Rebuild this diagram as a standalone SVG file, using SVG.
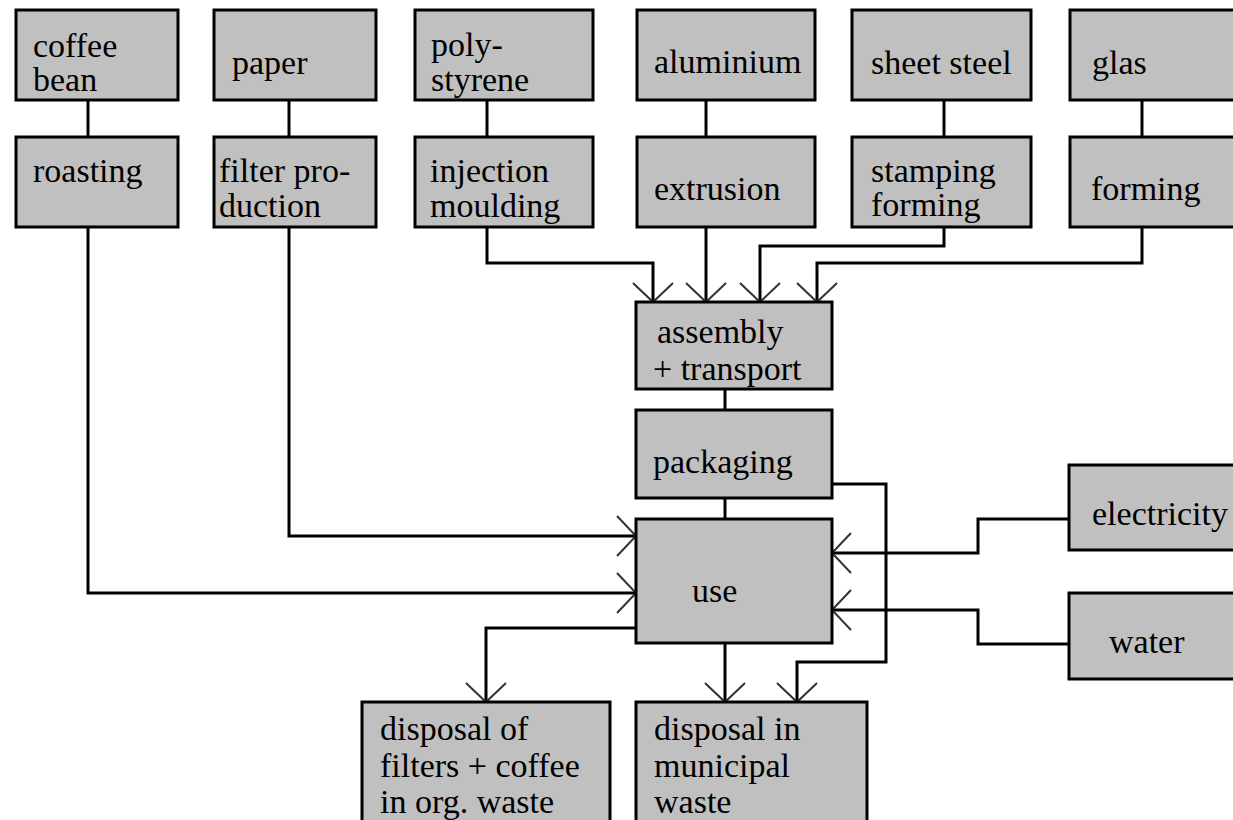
<svg xmlns="http://www.w3.org/2000/svg" width="1233" height="820" viewBox="0 0 1233 820" font-family="Liberation Serif, DejaVu Serif, Times New Roman, serif">
<style>
.box{fill:#c0c0c0;stroke:#000;stroke-width:3}
text{font-size:34px;fill:#000}
.c{fill:none;stroke:#000;stroke-width:3}
.a{marker-end:url(#v)}
</style>
<defs>
<marker id="v" markerUnits="userSpaceOnUse" viewBox="-25 -25 30 50" markerWidth="30" markerHeight="50" refX="0" refY="0" orient="auto" overflow="visible">
<path d="M-19,-20 L0,0 L-19,20" fill="none" stroke="#333" stroke-width="2"/>
</marker>
</defs>
<rect width="1233" height="820" fill="#fff"/>
<g id="connectors">
<path class="c" d="M88,100 V137"/>
<path class="c" d="M289,100 V137"/>
<path class="c" d="M487,100 V137"/>
<path class="c" d="M706,100 V137"/>
<path class="c" d="M944,100 V137"/>
<path class="c" d="M1142,100 V137"/>
<path class="c a" d="M487,227 V263 H653 V302"/>
<path class="c a" d="M706,227 V302"/>
<path class="c a" d="M944,227 V246 H760 V302"/>
<path class="c a" d="M1142,227 V263 H817 V302"/>
<path class="c" d="M725,389 V410"/>
<path class="c" d="M725,498 V519"/>
<path class="c a" d="M289,227 V536 H636"/>
<path class="c a" d="M88,227 V593 H636"/>
<path class="c a" d="M1069,519 H978 V553 H832"/>
<path class="c a" d="M1069,644 H978 V610 H832"/>
<path class="c a" d="M636,628 H486 V702"/>
<path class="c a" d="M725,643 V702"/>
<path class="c a" d="M832,484 H886 V662 H797 V702"/>
</g>
<g id="coffee-bean"><rect class="box" x="16" y="10" width="162" height="90"/><text x="33" y="57">coffee</text><text x="33" y="91">bean</text></g>
<g id="paper"><rect class="box" x="214" y="10" width="162" height="90"/><text x="232" y="74">paper</text></g>
<g id="polystyrene"><rect class="box" x="415" y="10" width="178" height="90"/><text x="431" y="56">poly-</text><text x="431" y="91">styrene</text></g>
<g id="aluminium"><rect class="box" x="637" y="10" width="178" height="90"/><text x="654" y="73">aluminium</text></g>
<g id="sheet-steel"><rect class="box" x="852" y="10" width="179" height="90"/><text x="871" y="74">sheet steel</text></g>
<g id="glas"><rect class="box" x="1070" y="10" width="180" height="90"/><text x="1092" y="74">glas</text></g>
<g id="roasting"><rect class="box" x="16" y="137" width="162" height="90"/><text x="33" y="182">roasting</text></g>
<g id="filter-production"><rect class="box" x="214" y="137" width="162" height="90"/><text x="219" y="182">filter pro-</text><text x="219" y="217">duction</text></g>
<g id="injection-moulding"><rect class="box" x="415" y="137" width="178" height="90"/><text x="430" y="182">injection</text><text x="430" y="217">moulding</text></g>
<g id="extrusion"><rect class="box" x="637" y="137" width="178" height="90"/><text x="654" y="200">extrusion</text></g>
<g id="stamping-forming"><rect class="box" x="852" y="137" width="179" height="90"/><text x="871" y="182">stamping</text><text x="871" y="216">forming</text></g>
<g id="forming"><rect class="box" x="1070" y="137" width="180" height="90"/><text x="1091" y="200">forming</text></g>
<g id="assembly-transport"><rect class="box" x="636" y="302" width="196" height="87"/><text x="657" y="343">assembly</text><text x="653" y="380">+ transport</text></g>
<g id="packaging"><rect class="box" x="636" y="410" width="196" height="88"/><text x="653" y="473">packaging</text></g>
<g id="use"><rect class="box" x="636" y="519" width="196" height="124"/><text x="692" y="602">use</text></g>
<g id="electricity"><rect class="box" x="1069" y="465" width="180" height="85"/><text x="1092" y="525">electricity</text></g>
<g id="water"><rect class="box" x="1069" y="593" width="180" height="86"/><text x="1109" y="653">water</text></g>
<g id="disposal-org"><rect class="box" x="362" y="702" width="248" height="130"/><text x="380" y="740">disposal of</text><text x="380" y="777">filters + coffee</text><text x="380" y="813">in org. waste</text></g>
<g id="disposal-municipal"><rect class="box" x="636" y="702" width="231" height="130"/><text x="654" y="740">disposal in</text><text x="654" y="777">municipal</text><text x="654" y="813">waste</text></g>
</svg>
